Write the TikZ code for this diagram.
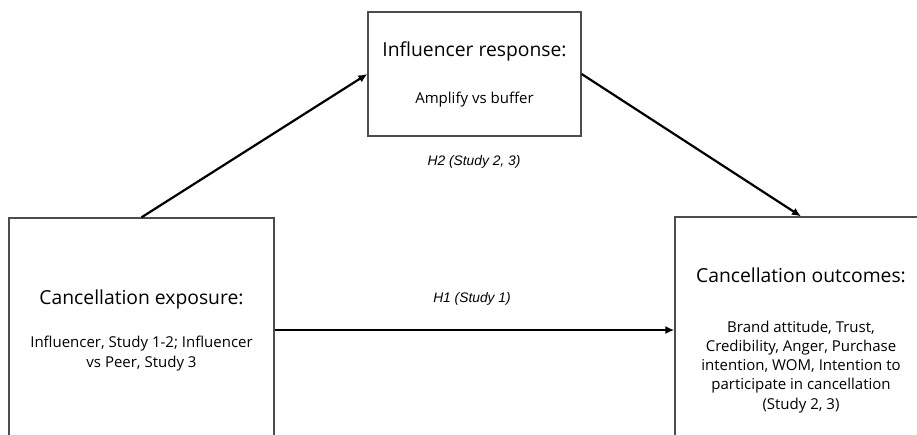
\documentclass[tikz,border=0pt]{standalone}
\usepackage{fontspec}
\setmainfont{Open Sans}
\newfontfamily\hypfont{Liberation Sans}
\usetikzlibrary{arrows.meta}

\tikzstyle{panel}=[draw=black!70, line width=1.3pt, align=center, inner sep=0pt,
    font=\fontsize{15}{20}\selectfont]
\tikzstyle{link}=[draw, line width=2.2pt, -{Latex[length=9pt,width=8pt]}]
\tikzstyle{hyp}=[font=\hypfont\itshape\fontsize{13.8}{16}\selectfont]
\newcommand{\heading}[1]{{\fontsize{19.3}{22}\selectfont #1}}

\begin{document}
\begin{tikzpicture}[x=1pt,y=-1pt]

    \fill[white] (0,0) rectangle (917,434);
    \clip (0,0) rectangle (917,434);

    % the three blocks of the model
    \node[panel, minimum width=265pt, minimum height=224pt] (exposure) at (141.5,330)
        {\heading{Cancellation exposure:}\\[23pt]
         Influencer, Study 1-2; Influencer\\ vs Peer, Study 3};
    \node[panel, minimum width=213pt, minimum height=124pt] (response) at (474.5,74)
        {\heading{Influencer response:}\\[27pt] Amplify vs buffer};
    \node[panel, minimum width=252pt, minimum height=247pt, font=\fontsize{15}{19.3}\selectfont]
        (outcomes) at (801,340.5)
        {\heading{Cancellation outcomes:}\\[30pt]
         Brand attitude, Trust,\\ Credibility, Anger, Purchase\\
         intention, WOM, Intention to\\ participate in cancellation\\ (Study 2, 3)};

    % paths
    \path[link] (exposure.north) -- (response.west);
    \path[link] (response.east)  -- (outcomes.north);
    \path[link] (exposure.east)  -- (exposure.east -| outcomes.west);

    \node[hyp] (h2) at (474,162) {H2 (Study 2, 3)};
    \node[hyp] (h1) at (472,299) {H1 (Study 1)};
\end{tikzpicture}
\end{document}
